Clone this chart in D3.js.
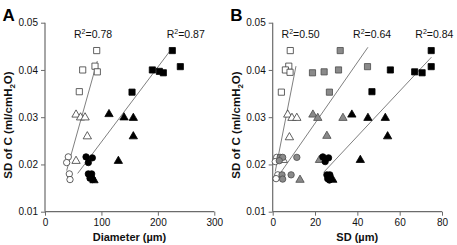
<!DOCTYPE html>
<html><head><meta charset="utf-8">
<script src="https://cdn.jsdelivr.net/npm/d3@7"></script>
<style>
html,body{margin:0;padding:0;background:#fff;}
svg{display:block;font-family:"Liberation Sans",Arial,sans-serif;}
</style></head>
<body><svg id="c" width="457" height="245"></svg>
<script>
// ---------- data ----------
const yTicks = [0.01, 0.02, 0.03, 0.04, 0.05];
const xTicksA = [0, 100, 200, 300];
const xTicksB = [0, 20, 40, 60, 80];

// Panel A: Diameter (µm) vs SD of C
const openSquaresA = [[91.6,0.0441],[88.6,0.0408],[92.7,0.0396],[66.8,0.0400],[60.8,0.0354]];
const openTrianglesA = [[55,0.0307],[63,0.0301],[71,0.0301],[75,0.0261],[55,0.0209]];
const openCirclesA = [[41.3,0.0216],[38.4,0.0204],[43.1,0.0180],[44.3,0.0168]];
const filledSquaresA = [[225.6,0.0441],[239.8,0.0407],[190.2,0.0400],[202.6,0.0397],[209.7,0.0394],[154.2,0.0353]];
const filledTrianglesA = [[113.4,0.0308],[140,0.0301],[156.5,0.0300],[156.5,0.0261],[130,0.0209],[86.8,0.0168]];
const filledCirclesA = [[72.7,0.0216],[83.9,0.0214],[76.8,0.0204],[76.8,0.0180],[82.7,0.0180],[79.7,0.0171],[84.5,0.0168]];
const fitLinesA = [[[38.4,0.0187],[92.7,0.0419]], [[57.9,0.0181],[223.9,0.0444]]];
const r2LabelsA = [{t:"0.78", x:51.4}, {t:"0.87", x:215.7}];

// Panel B: SD (µm) vs SD of C
const openSquaresB = [[8.3,0.0441],[7.6,0.0408],[6.0,0.0400],[8.2,0.0395],[4.1,0.0353]];
const openTrianglesB = [[7.1,0.0307],[9.1,0.0300],[11.4,0.0300],[7.9,0.0259],[5.0,0.0211]];
const openCirclesB = [[1.9,0.0215],[1.2,0.0206],[2.4,0.0178],[1.6,0.0170]];
const graySquaresB = [[18.8,0.0394],[24.3,0.0396],[31.1,0.0400],[31.9,0.0441],[26.8,0.0353],[44.8,0.0407]];
const grayTrianglesB = [[19.0,0.0307],[21.3,0.0300],[33.2,0.0300],[25.6,0.0262],[22.1,0.0211],[12.9,0.0169]];
const grayCirclesB = [[3.5,0.0215],[4.7,0.0215],[3.1,0.0208],[11.4,0.0215],[4.4,0.0178],[4.7,0.0169],[8.7,0.0178]];
const filledSquaresB = [[74.9,0.0441],[74.9,0.0407],[67.1,0.0396],[70.6,0.0394],[55.6,0.0400],[46.9,0.0354]];
const filledTrianglesB = [[37.4,0.0307],[45.0,0.0300],[53.2,0.0300],[54.3,0.0261],[41.4,0.0211],[28.4,0.0169]];
const filledCirclesB = [[23.7,0.0216],[26.4,0.0214],[24.8,0.0206],[25.6,0.0178],[27.0,0.0178],[26.0,0.0170],[26.8,0.0167]];
const fitLinesB = [[[1.2,0.0185],[11.0,0.0408]], [[3.5,0.0181],[45,0.0448]], [[24,0.0183],[75,0.0427]]];
const r2LabelsB = [{t:"0.50", x:4.2}, {t:"0.64", x:38}, {t:"0.84", x:67.4}];

// ---------- drawing ----------
const svg = d3.select("#c");
const FONT = '"Liberation Sans",Arial,sans-serif';
const styles = {
  open:   {fill:"#fff",    stroke:"#3a3a3a"},
  gray:   {fill:"#8a8a8a", stroke:"#4a4a4a"},
  filled: {fill:"#000",    stroke:"#000"}
};

function panel(opts){
  const g = svg.append("g").attr("transform", `translate(${opts.ox},0)`);
  const x = d3.scaleLinear().domain(opts.xDomain).range([45, 214.3]);
  const y = d3.scaleLinear().domain([0.01, 0.05]).range([211.7, 22.7]);

  const ya = g.append("g").attr("transform","translate(45,0)")
    .call(d3.axisLeft(y).tickValues(yTicks).tickFormat(d3.format(".2f")).tickSize(4).tickPadding(3));
  const xa = g.append("g").attr("transform","translate(0,211.7)")
    .call(d3.axisBottom(x).tickValues(opts.xTicks).tickFormat(d3.format("d")).tickSize(4).tickPadding(3));
  [ya, xa].forEach(a=>{
    a.select(".domain").attr("stroke","#6b6b6b").attr("stroke-width",1.2);
    a.selectAll(".tick line").attr("stroke","#6b6b6b");
    a.selectAll("text").attr("font-family",FONT).attr("font-size",10).attr("fill","#111");
  });
  xa.select(".domain").attr("d", `M45,0H214.3`);
  ya.select(".domain").attr("d", `M0,211.7V22.7`);

  g.selectAll("line.fit").data(opts.fits).enter().append("line")
    .attr("x1", d=>x(d[0][0])).attr("y1", d=>y(d[0][1]))
    .attr("x2", d=>x(d[1][0])).attr("y2", d=>y(d[1][1]))
    .attr("stroke","#808080").attr("stroke-width",1);

  const sq = d3.symbol().type(d3.symbolSquare).size(38);
  const tr = d3.symbol().type(d3.symbolTriangle).size(30);
  const ci = d3.symbol().type(d3.symbolCircle).size(32);
  opts.series.forEach(s=>{
    const st = styles[s.style];
    const sym = s.shape === "square" ? sq : s.shape === "triangle" ? tr : ci;
    g.append("g").selectAll("path").data(s.data).enter().append("path")
      .attr("d", sym)
      .attr("transform", d=>`translate(${x(d[0])},${y(d[1]) + (s.shape==="triangle"?0.8:0)})`)
      .attr("fill", st.fill).attr("stroke", st.stroke).attr("stroke-width", 0.8);
  });

  opts.r2.forEach(l=>{
    const t = g.append("text").attr("x", x(l.x)).attr("y", 38)
      .attr("font-family",FONT).attr("font-size",10.5).attr("fill","#111");
    t.append("tspan").text("R");
    t.append("tspan").attr("font-size",7).attr("dy",-4).text("2");
    t.append("tspan").attr("dy",4).text("=" + l.t);
  });

  g.append("text").attr("x",2.5).attr("y",20.5).attr("font-family",FONT)
    .attr("font-weight","bold").attr("font-size",17).text(opts.letter);

  const yl = g.append("text").attr("transform","translate(12,125) rotate(-90)")
    .attr("text-anchor","middle").attr("font-family",FONT).attr("font-weight","bold")
    .attr("font-size",11.5).attr("fill","#111");
  yl.append("tspan").text("SD of C (ml/cmH");
  yl.append("tspan").attr("font-size",8).attr("dy",3).text("2");
  yl.append("tspan").attr("dy",-3).text("O)");

  g.append("text").attr("x",129.5).attr("y",241).attr("text-anchor","middle")
    .attr("font-family",FONT).attr("font-weight","bold").attr("font-size",11)
    .attr("fill","#111").text(opts.xLabel);
}

panel({ox:0, letter:"A", xDomain:[0,300], xTicks:xTicksA, xLabel:"Diameter (µm)",
  fits:fitLinesA, r2:r2LabelsA,
  series:[
    {shape:"square", style:"open", data:openSquaresA},
    {shape:"triangle", style:"open", data:openTrianglesA},
    {shape:"circle", style:"open", data:openCirclesA},
    {shape:"square", style:"filled", data:filledSquaresA},
    {shape:"triangle", style:"filled", data:filledTrianglesA},
    {shape:"circle", style:"filled", data:filledCirclesA}
  ]});

panel({ox:227.7, letter:"B", xDomain:[0,80], xTicks:xTicksB, xLabel:"SD (µm)",
  fits:fitLinesB, r2:r2LabelsB,
  series:[
    {shape:"square", style:"open", data:openSquaresB},
    {shape:"triangle", style:"open", data:openTrianglesB},
    {shape:"circle", style:"open", data:openCirclesB},
    {shape:"square", style:"gray", data:graySquaresB},
    {shape:"triangle", style:"gray", data:grayTrianglesB},
    {shape:"circle", style:"gray", data:grayCirclesB},
    {shape:"square", style:"filled", data:filledSquaresB},
    {shape:"triangle", style:"filled", data:filledTrianglesB},
    {shape:"circle", style:"filled", data:filledCirclesB}
  ]});
</script></body></html>
